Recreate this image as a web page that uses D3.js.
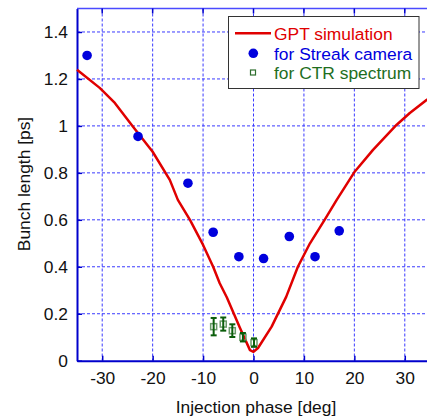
<!DOCTYPE html>
<html>
<head>
<meta charset="utf-8">
<script src="https://cdn.jsdelivr.net/npm/d3@7"></script>
<style>
  body { margin: 0; background: #fff; }
  svg { display: block; font-family: "Liberation Sans", Arial, sans-serif; }
</style>
</head>
<body>
<svg></svg>
<script>
// GPT simulation curve
const simPhase  = [-35, -30.5, -27.5, -24, -20, -16.6, -15, -12.6, -10, -8, -6.7, -5.3, -2.7, -0.7, 0, 0.9, 3.6, 6.5, 8.8, 11.2, 14.1, 16.5, 20.1, 23.7, 28.4, 31, 34.3, 35];
const simLength = [1.239, 1.162, 1.098, 1.0, 0.89, 0.77, 0.685, 0.60, 0.493, 0.40, 0.33, 0.27, 0.14, 0.045, 0.038, 0.054, 0.145, 0.273, 0.40, 0.50, 0.60, 0.685, 0.806, 0.898, 1.005, 1.055, 1.11, 1.12];

// streak camera points
const streakPhase  = [-33, -22.9, -13, -8, -2.9, 2, 7.1, 12.2, 17];
const streakLength = [1.30, 0.955, 0.756, 0.547, 0.443, 0.435, 0.529, 0.443, 0.553];

// CTR spectrum points
const ctrPhase  = [-7.9, -6, -4.2, -2.1, 0.1];
const ctrLength = [0.145, 0.156, 0.128, 0.10, 0.077];
const ctrErr    = [0.037, 0.028, 0.027, 0.018, 0.018];

const xTicks = [-30, -20, -10, 0, 10, 20, 30];
const yTicks = [0, 0.2, 0.4, 0.6, 0.8, 1, 1.2, 1.4];

const legendLabels = ["GPT simulation", "for Streak camera", "for CTR spectrum"];

const width = 427, height = 417;
const svg = d3.select("svg").attr("width", width).attr("height", height);

const pLeft = 77, pTop = 8.5, pRight = 430, pBottom = 360.7;
const x = d3.scaleLinear().domain([-35, 35]).range([pLeft, pRight]);
const y = d3.scaleLinear().domain([0, 1.5]).range([pBottom, pTop]);

const gridColor = "#3a3aff";
const axisColor = "#0000cc";
const fs = "17.4px";

// grid
svg.append("g").selectAll("line").data(xTicks).enter().append("line")
  .attr("x1", d => x(d)).attr("x2", d => x(d))
  .attr("y1", pTop).attr("y2", pBottom)
  .attr("stroke", gridColor).attr("stroke-width", 1)
  .attr("stroke-dasharray", "3,2");
svg.append("g").selectAll("line").data(yTicks.filter(d => d > 0)).enter().append("line")
  .attr("x1", pLeft).attr("x2", pRight)
  .attr("y1", d => y(d)).attr("y2", d => y(d))
  .attr("stroke", gridColor).attr("stroke-width", 1)
  .attr("stroke-dasharray", "3,2");

// axes
const xAxis = d3.axisBottom(x).tickValues(xTicks).tickFormat(d => String(d))
  .tickSizeInner(-5).tickSizeOuter(0).tickPadding(11);
const yAxis = d3.axisLeft(y).tickValues(yTicks).tickFormat(d => String(d))
  .tickSizeInner(-5).tickSizeOuter(0).tickPadding(9);

const gx = svg.append("g").attr("transform", `translate(0,${pBottom})`).call(xAxis);
const gy = svg.append("g").attr("transform", `translate(${pLeft},0)`).call(yAxis);
[gx, gy].forEach(g => {
  g.select(".domain").attr("stroke", axisColor).attr("stroke-width", 2);
  g.selectAll(".tick line").attr("stroke", axisColor).attr("stroke-width", 1.5);
  g.selectAll(".tick text").attr("fill", "#111").style("font-size", fs)
    .style("font-family", "'Liberation Sans', Arial, sans-serif");
});
gx.selectAll(".tick text").attr("dy", "0.71em");

// top frame line
svg.append("line").attr("x1", pLeft).attr("x2", pRight).attr("y1", pTop).attr("y2", pTop)
  .attr("stroke", "#4a4aff").attr("stroke-width", 1.5);
svg.append("g").selectAll("line").data(xTicks).enter().append("line")
  .attr("x1", d => x(d)).attr("x2", d => x(d))
  .attr("y1", pTop).attr("y2", pTop + 5)
  .attr("stroke", axisColor).attr("stroke-width", 1.5);

// axis titles
svg.append("text").attr("x", 256).attr("y", 413).attr("text-anchor", "middle")
  .style("font-size", fs).attr("fill", "#111").text("Injection phase [deg]");
svg.append("text").attr("transform", "translate(30,184) rotate(-90)").attr("text-anchor", "middle")
  .style("font-size", fs).attr("fill", "#111").text("Bunch length [ps]");

// simulation line
const line = d3.line().x(d => x(d[0])).y(d => y(d[1]));
svg.append("path").datum(d3.zip(simPhase, simLength))
  .attr("d", line).attr("fill", "none")
  .attr("stroke", "#e00000").attr("stroke-width", 2.5).attr("stroke-linejoin", "round");

// streak points
svg.append("g").selectAll("circle").data(d3.zip(streakPhase, streakLength)).enter().append("circle")
  .attr("cx", d => x(d[0])).attr("cy", d => y(d[1])).attr("r", 4.8)
  .attr("fill", "#0000dd");

// CTR points with error bars
const ctr = d3.zip(ctrPhase, ctrLength, ctrErr);
const eg = svg.append("g");
eg.selectAll("rect").data(ctr).enter().append("rect")
  .attr("x", d => x(d[0]) - 3).attr("y", d => y(d[1]) - 3)
  .attr("width", 6).attr("height", 6)
  .attr("fill", "none").attr("stroke", "#6a9a6a").attr("stroke-width", 1.5);
ctr.forEach(d => {
  const cx = x(d[0]), y0 = y(d[1] - d[2]), y1 = y(d[1] + d[2]);
  eg.append("line").attr("x1", cx).attr("x2", cx).attr("y1", y0).attr("y2", y1)
    .attr("stroke", "#0b5e0b").attr("stroke-width", 2);
  [y0, y1].forEach(yy => eg.append("line").attr("x1", cx - 3).attr("x2", cx + 3)
    .attr("y1", yy).attr("y2", yy).attr("stroke", "#0b5e0b").attr("stroke-width", 2));
});

// legend
const lg = svg.append("g");
lg.append("rect").attr("x", 228.5).attr("y", 16.5).attr("width", 190.5).attr("height", 72)
  .attr("fill", "#fff").attr("stroke", "#333").attr("stroke-width", 1);
lg.append("line").attr("x1", 235).attr("x2", 271).attr("y1", 33.3).attr("y2", 33.3)
  .attr("stroke", "#e00000").attr("stroke-width", 2.5);
lg.append("circle").attr("cx", 253.3).attr("cy", 53.3).attr("r", 4.8).attr("fill", "#0000dd");
lg.append("rect").attr("x", 250.5).attr("y", 70).attr("width", 5).attr("height", 5)
  .attr("fill", "none").attr("stroke", "#2e6e2e").attr("stroke-width", 1.2);
const legendColors = ["#e00000", "#0000dd", "#1e6e1e"];
const legendY = [39.5, 59.5, 78.5];
legendLabels.forEach((t, i) => {
  lg.append("text").attr("x", 274).attr("y", legendY[i]).attr("fill", legendColors[i])
    .style("font-size", fs).text(t);
});
</script>
</body>
</html>
